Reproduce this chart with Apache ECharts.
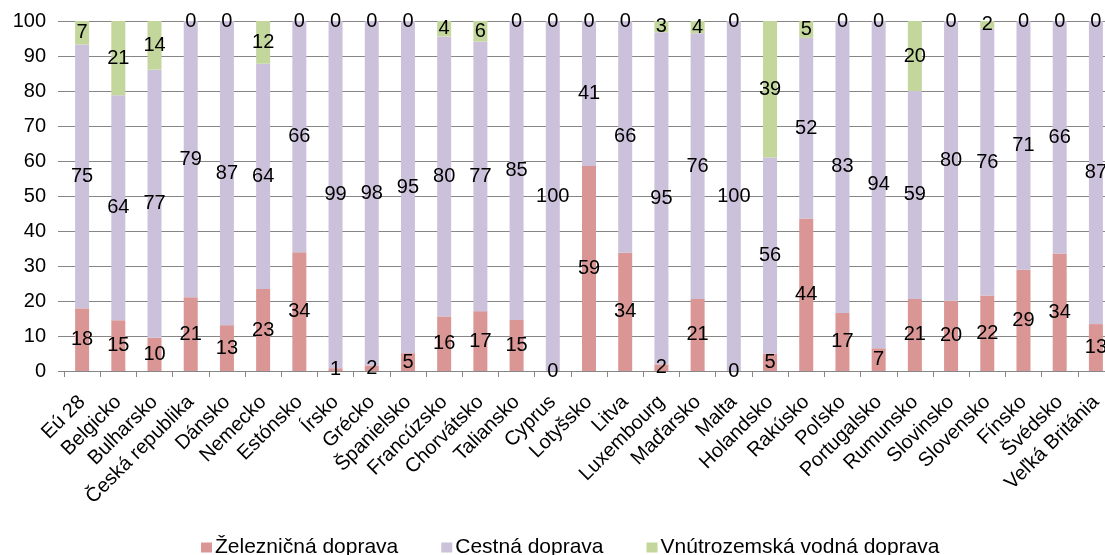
<!DOCTYPE html>
<html>
<head>
<meta charset="utf-8">
<script src="https://cdn.jsdelivr.net/npm/echarts@6/dist/echarts.min.js"></script>
<style>
html,body{margin:0;padding:0;background:#fff;}
#chart{width:1105px;height:555px;}
</style>
</head>
<body>
<div id="chart"></div>
<script>
const categories = ["Eú 28","Belgicko","Bulharsko","Česká republika","Dánsko","Nemecko","Estónsko","Írsko","Grécko","Španielsko","Francúzsko","Chorvátsko","Taliansko","Cyprus","Lotyšsko","Litva","Luxembourg","Maďarsko","Malta","Holandsko","Rakúsko","Poľsko","Portugalsko","Rumunsko","Slovinsko","Slovensko","Fínsko","Švédsko","Veľká Británia"];
const rail  = [17.9,14.5,9.5,21.1,13.1,23.4,33.9,0.8,1.6,5.1,15.6,17.1,14.6,0,58.6,33.8,1.9,20.6,0,5.0,43.6,16.6,6.5,20.6,20.1,21.6,28.9,33.6,13.4];
const road  = [75.4,64.3,76.6,78.9,86.9,64.4,66.1,99.2,98.4,94.9,80.0,77.0,85.4,100,41.4,66.2,94.9,75.9,100,56.0,51.6,83.4,93.5,59.4,79.9,76.2,71.1,66.4,86.6];
const water = [6.7,21.2,13.9,0,0,12.2,0,0,0,0,4.4,5.9,0,0,0,0,3.2,3.5,0,39.0,4.8,0,0,20.0,0,2.2,0,0,0];
const seriesNames = ["Železničná doprava","Cestná doprava","Vnútrozemská vodná doprava"];
const colors = ["#D99694","#CCC1DA","#C3D69B"];
const yTicks = {min:0,max:100,interval:10};

const FONT = "'Liberation Sans', Arial, sans-serif";
const FS = 20;
const chart = echarts.init(document.getElementById('chart'), null, {renderer:'canvas'});
function mk(name, data, color){
  return {
    name, type:'bar', stack:'t', data, barWidth:14,
    itemStyle:{color},
    label:{show:true, position:'inside', color:'#000', fontSize:FS, fontFamily:FONT,
      formatter:p=>Math.round(p.value)},
    emphasis:{disabled:true}
  };
}
chart.setOption({
  animation:false,
  textStyle:{fontFamily:FONT},
  grid:{left:64, width:1050, top:21, bottom:184, containLabel:false, outerBoundsMode:'none'},
  legend:{
    top:532, left:196, icon:'rect', itemWidth:11, itemHeight:10, itemGap:43,
    textStyle:{fontSize:21, color:'#000', fontFamily:FONT, padding:[0,0,0,-2]},
    data:seriesNames
  },
  xAxis:{
    type:'category', data:categories,
    axisLine:{lineStyle:{color:'#868686', width:1}},
    axisTick:{show:true, length:6, lineStyle:{color:'#868686'}},
    axisLabel:{rotate:45, fontSize:FS, color:'#000', fontFamily:FONT, margin:28, interval:0, hideOverlap:false}
  },
  yAxis:{
    type:'value', min:yTicks.min, max:yTicks.max, interval:yTicks.interval,
    axisLine:{show:false},
    axisTick:{show:true, length:6, lineStyle:{color:'#868686'}},
    splitLine:{lineStyle:{color:'#868686', width:1}},
    axisLabel:{fontSize:FS, color:'#000', fontFamily:FONT, margin:18}
  },
  series:[mk(seriesNames[0], rail, colors[0]), mk(seriesNames[1], road, colors[1]), mk(seriesNames[2], water, colors[2])]
});
</script>
</body>
</html>
